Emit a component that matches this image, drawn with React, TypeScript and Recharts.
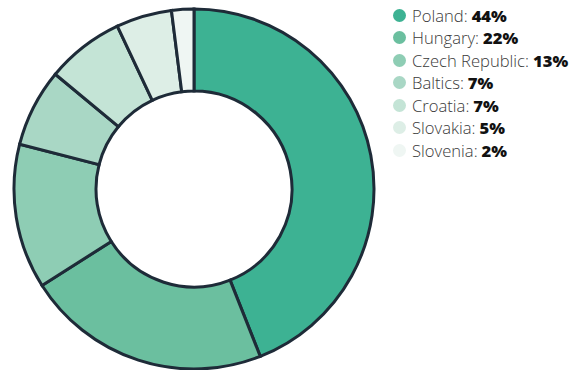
import React from "react";
import { PieChart, Pie, Cell, Legend } from "recharts";

const countries = ["Poland", "Hungary", "Czech Republic", "Baltics", "Croatia", "Slovakia", "Slovenia"];
const shares = [44, 22, 13, 7, 7, 5, 2];
const colors = ["#3db293", "#6bbf9f", "#8ecdb4", "#a9d7c5", "#c4e4d6", "#ddeee6", "#eff6f3"];

const data = countries.map((name, i) => ({ name, value: shares[i] }));

const renderLegend = () => (
  <div style={{ fontFamily: "'Open Sans', 'Noto Sans', sans-serif", fontSize: 16.6 }}>
    {data.map((d, i) => (
      <div key={d.name} style={{ display: "flex", alignItems: "center", height: 22.5 }}>
        <span
          style={{
            width: 13,
            height: 13,
            borderRadius: "50%",
            background: colors[i],
            marginRight: 6,
            display: "inline-block",
          }}
        />
        <span style={{ color: "#3a3a3a", fontWeight: 300 }}>{d.name}:</span>
        <span style={{ color: "#111", fontWeight: 800, marginLeft: 4 }}>{d.value}%</span>
      </div>
    ))}
  </div>
);

export default function App() {
  return (
    <div style={{ position: "absolute", left: 0, top: 0, background: "#fff" }}>
      <PieChart width={585} height={370} margin={{ top: 0, right: 0, bottom: 0, left: 0 }}>
        <Pie
          data={data}
          dataKey="value"
          cx={194}
          cy={189}
          innerRadius={98}
          outerRadius={180}
          startAngle={90}
          endAngle={-270}
          stroke="#1e2b38"
          strokeWidth={3}
          isAnimationActive={false}
        >
          {data.map((d, i) => (
            <Cell key={d.name} fill={colors[i]} />
          ))}
        </Pie>
        <Legend
          content={renderLegend}
          wrapperStyle={{ left: 393, top: 4, width: 192 }}
        />
      </PieChart>
    </div>
  );
}
